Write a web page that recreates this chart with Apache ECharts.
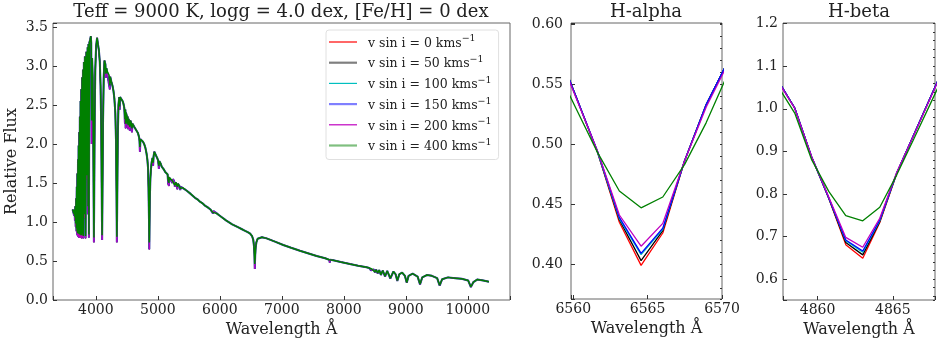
<!DOCTYPE html>
<html>
<head>
<meta charset="utf-8">
<script src="https://cdn.jsdelivr.net/npm/echarts@6/dist/echarts.min.js"></script>
<style>
	html, body { margin: 0; padding: 0; background: #fff; }
	#chart { width: 941px; height: 349px; }
</style>
</head>
<body>
<div id="chart"></div>
<script>
// legend labels, one per rotation speed
const seriesNames = [
	"v sin i = 0 kms⁻¹",
	"v sin i = 50 kms⁻¹",
	"v sin i = 100 kms⁻¹",
	"v sin i = 150 kms⁻¹",
	"v sin i = 200 kms⁻¹",
	"v sin i = 400 kms⁻¹",
]

// full spectrum (left panel), wavelength in Angstrom
const specWave = [
	3626, 3635, 3645, 3652, 3658, 3664, 3670, 3676, 3682, 3688,
	3693, 3698, 3703, 3708, 3713, 3718, 3723, 3728, 3733, 3738,
	3743, 3748, 3754, 3760, 3766, 3772, 3779, 3786, 3793, 3799,
	3808, 3816, 3824, 3835, 3848, 3860, 3868, 3876, 3882, 3889,
	3897, 3910, 3920, 3926, 3933, 3940, 3950, 3958, 3964, 3970,
	3976, 3983, 3992, 4005, 4021, 4035, 4050, 4065, 4077, 4088,
	4095, 4102, 4109, 4117, 4128, 4140, 4155, 4163, 4172, 4185,
	4200, 4215, 4226, 4233, 4250, 4268, 4285, 4300, 4315, 4326,
	4334, 4340, 4347, 4355, 4366, 4378, 4385, 4392, 4405, 4418,
	4432, 4445, 4460, 4471, 4477, 4481, 4487, 4500, 4508, 4514,
	4522, 4530, 4549, 4558, 4571, 4583, 4592, 4620, 4650, 4680,
	4700, 4705, 4712, 4720, 4740, 4760, 4780, 4800, 4818, 4832,
	4842, 4850, 4855, 4857.35, 4859.61, 4861, 4863, 4864.13, 4866.39, 4868.65,
	4872, 4880, 4890, 4902, 4915, 4924, 4932, 4944, 4958, 4972,
	4990, 5005, 5018, 5025, 5045, 5063, 5085, 5100, 5120, 5140,
	5158, 5169, 5173, 5178, 5184, 5200, 5215, 5234, 5245, 5265,
	5276, 5290, 5316, 5325, 5350, 5362, 5375, 5400, 5430, 5468,
	5500, 5530, 5560, 5600, 5640, 5680, 5720, 5760, 5800, 5850,
	5890, 5900, 5950, 6000, 6050, 6100, 6150, 6200, 6250, 6300,
	6350, 6400, 6450, 6490, 6520, 6540, 6550, 6558.72, 6563.1, 6564.56,
	6566.02, 6570.4, 6578, 6590, 6610, 6640, 6680, 6755, 6900, 7023,
	7150, 7292, 7420, 7561, 7700, 7765, 7773, 7782, 7829, 7950,
	8098, 8230, 8368, 8410, 8438, 8452, 8467, 8484, 8502, 8522,
	8545, 8570, 8598, 8628, 8665, 8700, 8750, 8800, 8835, 8863,
	8895, 8940, 8985, 9015, 9045, 9110, 9190, 9229, 9265, 9340,
	9420, 9505, 9546, 9585, 9680, 9800, 9900, 10005, 10049, 10090,
	10150, 10250, 10340,
]

// relative flux of the 400 km/s spectrum (green, drawn on top)
const fluxBroad = [
	1.16, 1.18, 1.15, 1.10, 1.16, 1.06, 1.20, 0.98, 1.30, 0.92,
	1.45, 0.88, 1.62, 0.86, 1.80, 0.85, 1.98, 0.85, 2.15, 0.84,
	2.35, 0.84, 2.55, 0.83, 2.70, 0.83, 2.85, 0.85, 2.95, 0.82,
	3.05, 1.10, 3.12, 0.82, 3.18, 1.60, 3.24, 1.20, 3.28, 0.84,
	3.30, 3.34, 3.38, 3.30, 2.30, 3.10, 2.85, 2.30, 1.50, 0.80,
	1.55, 2.40, 2.95, 3.25, 3.36, 3.28, 3.20, 3.05, 2.75, 2.20,
	1.50, 0.83, 1.50, 2.30, 2.85, 3.07, 3.02, 2.90, 2.97, 2.93,
	2.92, 2.88, 2.75, 2.86, 2.80, 2.75, 2.68, 2.58, 2.40, 2.05,
	1.40, 0.81, 1.40, 2.10, 2.50, 2.60, 2.48, 2.60, 2.62, 2.58,
	2.55, 2.52, 2.46, 2.32, 2.44, 2.26, 2.40, 2.36, 2.26, 2.35,
	2.24, 2.32, 2.22, 2.30, 2.27, 2.20, 2.26, 2.22, 2.18, 2.14,
	2.08, 2.04, 1.96, 2.06, 2.06, 2.03, 2.00, 1.95, 1.88, 1.80,
	1.70, 1.45, 1.20, 1.054, 0.880, 0.800, 0.737, 0.769, 0.929, 1.099,
	1.30, 1.55, 1.68, 1.77, 1.82, 1.76, 1.84, 1.90, 1.88, 1.85,
	1.82, 1.79, 1.72, 1.78, 1.75, 1.71, 1.69, 1.67, 1.64, 1.63,
	1.61, 1.52, 1.58, 1.50, 1.57, 1.58, 1.56, 1.53, 1.55, 1.52,
	1.47, 1.51, 1.45, 1.49, 1.46, 1.43, 1.45, 1.44, 1.42, 1.40,
	1.38, 1.36, 1.34, 1.31, 1.29, 1.26, 1.24, 1.21, 1.19, 1.16,
	1.12, 1.14, 1.11, 1.08, 1.05, 1.02, 0.995, 0.97, 0.95, 0.93,
	0.91, 0.89, 0.87, 0.85, 0.82, 0.77, 0.70, 0.5675, 0.461, 0.447,
	0.456, 0.559, 0.67, 0.74, 0.785, 0.81, 0.805, 0.79, 0.745, 0.705,
	0.67, 0.632, 0.600, 0.564, 0.535, 0.515, 0.49, 0.515, 0.510, 0.488,
	0.462, 0.440, 0.419, 0.410, 0.385, 0.398, 0.375, 0.393, 0.36, 0.388,
	0.345, 0.383, 0.325, 0.378, 0.305, 0.372, 0.28, 0.365, 0.33, 0.25,
	0.33, 0.352, 0.31, 0.225, 0.31, 0.337, 0.30, 0.205, 0.29, 0.32,
	0.31, 0.28, 0.19, 0.265, 0.29, 0.28, 0.272, 0.25, 0.17, 0.23,
	0.262, 0.25, 0.235,
]

// where the slower rotators differ (deeper line cores), wavelength -> flux
const narrowCores = {
	3652: 1.08, 3664: 1.02, 3676: 0.94, 3688: 0.88, 3698: 0.84, 3708: 0.82,
	3718: 0.81, 3728: 0.80, 3738: 0.80, 3748: 0.80, 3760: 0.80, 3772: 0.79,
	3786: 0.81, 3799: 0.79, 3816: 1.05, 3835: 0.79, 3860: 1.55, 3876: 1.10,
	3889: 0.80, 3933: 2.00, 3970: 0.74, 4102: 0.77, 4163: 2.85, 4185: 2.90,
	4226: 2.70, 4340: 0.74, 4385: 2.44, 4471: 2.26, 4481: 2.20, 4508: 2.21,
	4522: 2.19, 4549: 2.17, 4583: 2.15, 4712: 1.90, 4857.35: 1.068,
	4859.61: 0.886, 4861: 0.77, 4863: 0.649, 4864.13: 0.739, 4866.39: 0.939,
	4868.65: 1.118, 4924: 1.72, 5018: 1.68, 5169: 1.48, 5178: 1.46, 5234: 1.50,
	5276: 1.45, 5316: 1.42, 5362: 1.41, 5890: 1.11, 6558.72: 0.586,
	6563.1: 0.435, 6564.56: 0.399, 6566.02: 0.426, 6570.4: 0.569, 7773: 0.48,
	8438: 0.38, 8467: 0.37, 8502: 0.355, 8545: 0.34, 8598: 0.32, 8665: 0.30,
	8750: 0.275, 8863: 0.245, 9015: 0.22, 9229: 0.20, 9546: 0.185, 10049: 0.165,
}

// H-alpha close-up
const haWave = [6558.72, 6560.18, 6561.64, 6563.10, 6564.56, 6566.02, 6567.48, 6568.94, 6570.40]
const haFlux = [
	[0.586, 0.540, 0.493, 0.435, 0.399, 0.426, 0.486, 0.533, 0.569],
	[0.586, 0.540, 0.493, 0.437, 0.403, 0.428, 0.486, 0.533, 0.569],
	[0.586, 0.540, 0.493, 0.438, 0.408, 0.429, 0.486, 0.533, 0.569],
	[0.586, 0.540, 0.494, 0.439, 0.409, 0.430, 0.486, 0.533, 0.569],
	[0.584, 0.539, 0.494, 0.441, 0.415, 0.434, 0.486, 0.531, 0.567],
	[0.5675, 0.530, 0.493, 0.461, 0.447, 0.456, 0.483, 0.518, 0.559],
]

// H-beta close-up
const hbWave = [4857.35, 4858.48, 4859.61, 4860.74, 4861.87, 4863.00, 4864.13, 4865.26, 4866.39, 4867.52, 4868.65]
const hbFlux = [
	[1.068, 1.002, 0.886, 0.790, 0.681, 0.649, 0.733, 0.848, 0.939, 1.029, 1.118],
	[1.068, 1.002, 0.886, 0.790, 0.686, 0.657, 0.735, 0.849, 0.939, 1.029, 1.118],
	[1.068, 1.002, 0.886, 0.791, 0.690, 0.663, 0.737, 0.849, 0.939, 1.029, 1.118],
	[1.068, 1.002, 0.887, 0.791, 0.692, 0.666, 0.739, 0.850, 0.939, 1.029, 1.118],
	[1.066, 1.001, 0.887, 0.793, 0.698, 0.675, 0.743, 0.851, 0.938, 1.027, 1.116],
	[1.054, 0.990, 0.880, 0.806, 0.749, 0.737, 0.769, 0.845, 0.929, 1.014, 1.099],
]

if (specWave.length !== fluxBroad.length) {
	throw new Error("spectrum arrays differ: " + specWave.length + " vs " + fluxBroad.length)
}

const FONT = "DejaVu Serif"
const colors = ["#ff0000", "#000000", "#00bfbf", "#0000ff", "#bf00bf", "#008000"]
// look of the lines in the big panel
const mainWidth = [1, 2, 1, 2, 1, 1.5]
const mainOpacity = [1, 0.5, 1, 0.5, 1, 1]
// legend handles: thin / thick, faded or not
const legendThick = [false, true, false, true, false, true]

const fluxNarrow = specWave.map((w, i) => (w in narrowCores ? narrowCores[w] : fluxBroad[i]))
const pairs = (xs, ys) => xs.map((x, i) => [x, ys[i]])

const onStep = (step, digits) => (v) => {
	const k = v / step
	return Math.abs(k - Math.round(k)) < 1e-6 ? v.toFixed(digits) : ""
}

const tickStyle = { inside: true, length: 4, lineStyle: { color: "#333" } }
const labelStyle = { fontFamily: FONT, fontSize: 14, color: "#222" }
const nameStyle = { fontFamily: FONT, fontSize: 16, color: "#222" }
const titleStyle = { fontFamily: FONT, fontSize: 18, fontWeight: "normal", color: "#222" }

const xAxis = (grid, min, max, step) => ({
	type: "value",
	gridIndex: grid,
	min, max,
	minInterval: step, maxInterval: step,
	name: "Wavelength Å",
	nameLocation: "middle",
	nameGap: 21,
	nameTextStyle: nameStyle,
	axisLine: { show: false },
	axisTick: tickStyle,
	splitLine: { show: false },
	axisLabel: { ...labelStyle, margin: 3, formatter: onStep(step, 0) },
})

const yAxis = (grid, min, max, step, digits, margin) => ({
	type: "value",
	gridIndex: grid,
	min, max,
	minInterval: step, maxInterval: step,
	axisLine: { show: false },
	axisTick: tickStyle,
	splitLine: { show: false },
	axisLabel: { ...labelStyle, margin, formatter: onStep(step, digits) },
})

// second y axis that only draws the small ticks
const minorAxis = (grid, min, max, step) => ({
	type: "value",
	gridIndex: grid,
	min, max,
	minInterval: step, maxInterval: step,
	axisLine: { show: false },
	axisTick: { inside: true, length: 2, lineStyle: { color: "#333" } },
	splitLine: { show: false },
	axisLabel: { show: false },
})

const series = []
seriesNames.forEach((name, k) => {
	series.push({
		name, type: "line", xAxisIndex: 0, yAxisIndex: 0,
		data: pairs(specWave, k === 5 ? fluxBroad : fluxNarrow),
		showSymbol: false, symbol: "none",
		lineStyle: { color: colors[k], width: mainWidth[k], opacity: mainOpacity[k] },
		itemStyle: { color: colors[k] },
		z: 2 + k,
	})
})
seriesNames.forEach((name, k) => {
	series.push({
		name, type: "line", xAxisIndex: 1, yAxisIndex: 1,
		data: pairs(haWave, haFlux[k]),
		symbol: "none",
		lineStyle: { color: colors[k], width: 1.3 },
		itemStyle: { color: colors[k] },
		z: 2 + k,
	})
	series.push({
		name, type: "line", xAxisIndex: 2, yAxisIndex: 3,
		data: pairs(hbWave, hbFlux[k]),
		symbol: "none",
		lineStyle: { color: colors[k], width: 1.3 },
		itemStyle: { color: colors[k] },
		z: 2 + k,
	})
})

const chart = echarts.init(document.getElementById("chart"))
chart.setOption({
	animation: false,
	backgroundColor: "#fff",
	title: [
		{ text: "Teff = 9000 K, logg = 4.0 dex, [Fe/H] = 0 dex", left: 281, top: 3, textAlign: "center", padding: 0, textStyle: titleStyle },
		{ text: "H-alpha", left: 646, top: 3, textAlign: "center", padding: 0, textStyle: titleStyle },
		{ text: "H-beta", left: 859, top: 3, textAlign: "center", padding: 0, textStyle: titleStyle },
	],
	legend: {
		orient: "vertical",
		left: 326, top: 30,
		padding: [4, 7, 6, 3],
		itemWidth: 28, itemHeight: 14, itemGap: 4.7,
		symbolKeepAspect: true,
		backgroundColor: "#fff",
		borderColor: "#e0e0e0", borderWidth: 1, borderRadius: 3,
		formatter: (name) => "{n|" + name.replace("⁻¹", "}{sup|−1}"),
		textStyle: {
			fontFamily: FONT, fontSize: 12.5, color: "#222", padding: [0, 0, 0, 6],
			rich: {
				n: { fontFamily: FONT, fontSize: 12.5, color: "#222", lineHeight: 16, verticalAlign: "bottom" },
				sup: { fontFamily: FONT, fontSize: 9.5, color: "#222", lineHeight: 16, verticalAlign: "top" },
			},
		},
		data: seriesNames.map((name, k) => ({
			name,
			icon: legendThick[k] ? "path://M0,0h28v2.2h-28z" : "path://M0,0h28v1.2h-28z",
			itemStyle: { color: colors[k], opacity: legendThick[k] ? 0.5 : 1 },
		})),
		selectedMode: false,
	},
	grid: [
		{ left: 53, right: 431, top: 23, bottom: 49, show: true, borderColor: "#666", borderWidth: 1 },
		{ left: 571, right: 219, top: 23, bottom: 50, show: true, borderColor: "#666", borderWidth: 1 },
		{ left: 783, right: 6, top: 23, bottom: 49, show: true, borderColor: "#666", borderWidth: 1 },
	],
	xAxis: [
		xAxis(0, 3310, 10680, 1000),
		xAxis(1, 6559.85, 6570, 5),
		xAxis(2, 4857.7, 4867.8, 5),
	],
	yAxis: [
		{ ...yAxis(0, 0, 3.55, 0.5, 1, 5), name: "Relative Flux", nameLocation: "middle", nameGap: 33, nameTextStyle: nameStyle },
		yAxis(1, 0.371, 0.601, 0.05, 2, 8),
		minorAxis(1, 0.371, 0.601, 0.01),
		yAxis(2, 0.551, 1.2016, 0.1, 1, 5),
		minorAxis(2, 0.551, 1.2016, 0.02),
	],
	series,
})
</script>
</body>
</html>
